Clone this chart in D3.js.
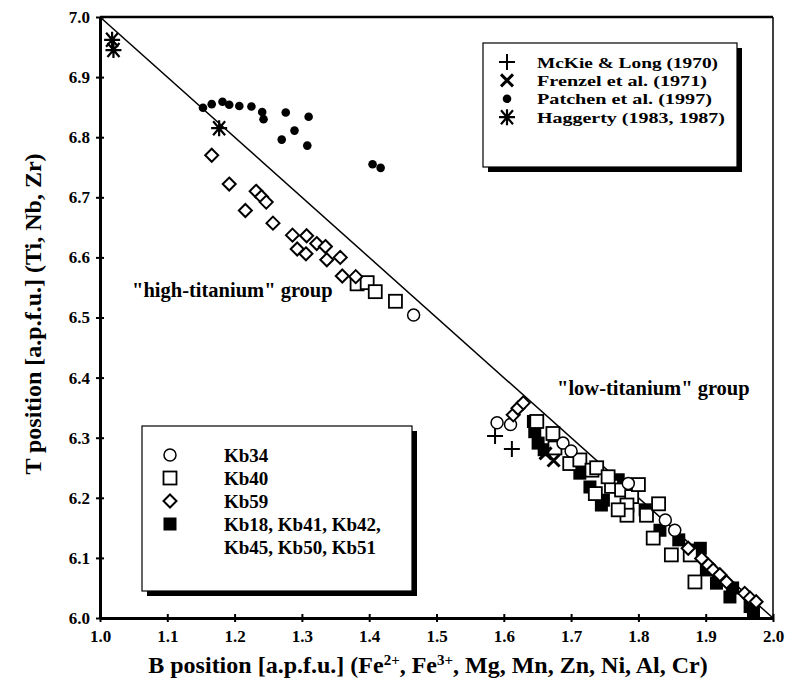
<!DOCTYPE html>
<html>
<head>
<meta charset="utf-8">
<script src="https://cdn.jsdelivr.net/npm/d3@7"></script>
<style>
  body { margin: 0; background: #fff; }
  svg text { font-family: "Liberation Serif", "Times New Roman", serif; font-weight: bold; fill: #000; }
</style>
</head>
<body>
<svg id="chart" width="785" height="683"></svg>
<script>
// axis ticks
const xTicks = [1.0, 1.1, 1.2, 1.3, 1.4, 1.5, 1.6, 1.7, 1.8, 1.9, 2.0]
const yTicks = [6.0, 6.1, 6.2, 6.3, 6.4, 6.5, 6.6, 6.7, 6.8, 6.9, 7.0]

// literature data
const mckie = [[1.587, 6.303], [1.612, 6.281]]
const frenzel = [[1.662, 6.274], [1.674, 6.262]]
const patchen = [
  [1.153, 6.849], [1.166, 6.855], [1.182, 6.859], [1.192, 6.854], [1.207, 6.852],
  [1.225, 6.851], [1.241, 6.842], [1.243, 6.830], [1.276, 6.841], [1.310, 6.834],
  [1.289, 6.811], [1.270, 6.796], [1.308, 6.786], [1.405, 6.755], [1.417, 6.749]
]
const haggerty = [[1.018, 6.962], [1.020, 6.945], [1.177, 6.815]]

// own samples
const kb34 = [
  [1.466, 6.504], [1.590, 6.325], [1.610, 6.322], [1.688, 6.291], [1.700, 6.278],
  [1.785, 6.224], [1.840, 6.163], [1.854, 6.146]
]
const kb40 = [
  [1.382, 6.556], [1.397, 6.558], [1.409, 6.543], [1.439, 6.527],
  [1.649, 6.327], [1.673, 6.307], [1.676, 6.283], [1.698, 6.257], [1.713, 6.263],
  [1.731, 6.246], [1.738, 6.250], [1.736, 6.207], [1.760, 6.219], [1.775, 6.213],
  [1.790, 6.202], [1.783, 6.188], [1.783, 6.171], [1.812, 6.171], [1.822, 6.133],
  [1.849, 6.105], [1.877, 6.105], [1.884, 6.060], [1.800, 6.222], [1.830, 6.190],
  [1.770, 6.180], [1.755, 6.235]
]
const kb59 = [
  [1.166, 6.770], [1.192, 6.722], [1.232, 6.710], [1.240, 6.701], [1.247, 6.692],
  [1.216, 6.678], [1.257, 6.657], [1.286, 6.637], [1.307, 6.636], [1.293, 6.614],
  [1.306, 6.606], [1.322, 6.623], [1.335, 6.618], [1.337, 6.596], [1.357, 6.600],
  [1.360, 6.569], [1.380, 6.568],
  [1.614, 6.338], [1.621, 6.349], [1.629, 6.358],
  [1.874, 6.116], [1.894, 6.099], [1.904, 6.088], [1.911, 6.080], [1.921, 6.072],
  [1.931, 6.060], [1.958, 6.041], [1.966, 6.033], [1.975, 6.027]
]
const kbOther = [
  [1.644, 6.327], [1.646, 6.310], [1.651, 6.291], [1.660, 6.280], [1.713, 6.241],
  [1.728, 6.218], [1.745, 6.188], [1.748, 6.196], [1.770, 6.230], [1.810, 6.180],
  [1.832, 6.146], [1.860, 6.130], [1.887, 6.113], [1.892, 6.116], [1.901, 6.080],
  [1.916, 6.058], [1.940, 6.050], [1.936, 6.035], [1.966, 6.019], [1.971, 6.008]
]

const litNames = ['McKie & Long (1970)', 'Frenzel et al. (1971)', 'Patchen et al. (1997)', 'Haggerty (1983, 1987)']
const ownNames = ['Kb34', 'Kb40', 'Kb59', 'Kb18, Kb41, Kb42,', 'Kb45, Kb50, Kb51']

const svg = d3.select('#chart')
const margin = { left: 100, right: 12, top: 17, bottom: 65 }
const W = 785, H = 683
const SERIF = '"Liberation Serif", "Times New Roman", serif'

const x = d3.scaleLinear().domain([1, 2]).range([margin.left, W - margin.right])
const y = d3.scaleLinear().domain([6, 7]).range([H - margin.bottom, margin.top])

// frame
svg.append('line').attr('x1', x(1)).attr('x2', x(2)).attr('y1', y(7)).attr('y2', y(7))
  .attr('stroke', '#000').attr('stroke-width', 2.5)
svg.append('line').attr('x1', x(2)).attr('x2', x(2)).attr('y1', y(7)).attr('y2', y(6))
  .attr('stroke', '#000').attr('stroke-width', 1.5)

// 1:1 line
svg.append('line').attr('x1', x(1)).attr('y1', y(7)).attr('x2', x(2)).attr('y2', y(6))
  .attr('stroke', '#000').attr('stroke-width', 1.5)

// axes
const xAxis = svg.append('g').attr('transform', `translate(0,${y(6)})`)
  .call(d3.axisBottom(x).tickValues(xTicks).tickFormat(d3.format('.1f')).tickSize(4).tickSizeOuter(0))
const yAxis = svg.append('g').attr('transform', `translate(${x(1)},0)`)
  .call(d3.axisLeft(y).tickValues(yTicks).tickFormat(d3.format('.1f')).tickSize(4).tickSizeOuter(0))

;[xAxis, yAxis].forEach(g => {
  g.attr('font-family', SERIF)
  g.select('.domain').attr('stroke-width', 3)
  g.selectAll('.tick line').attr('stroke-width', 2)
  g.selectAll('.tick text').attr('font-family', SERIF).style('font-size', '17px').style('font-weight', 'bold')
})
// ticks crossing the axis line
xAxis.selectAll('.tick').append('line').attr('y1', 0).attr('y2', -4).attr('stroke', '#000').attr('stroke-width', 2)
yAxis.selectAll('.tick').append('line').attr('x1', 0).attr('x2', 4).attr('stroke', '#000').attr('stroke-width', 2)
xAxis.selectAll('.tick text').attr('dy', '1em').attr('y', 7)
yAxis.selectAll('.tick text').attr('x', -10)

// axis titles
const xt = svg.append('text').attr('x', 428).attr('y', 673).attr('text-anchor', 'middle')
  .style('font-size', '24px')
xt.append('tspan').text('B position [a.p.f.u.] (Fe')
xt.append('tspan').text('2+').attr('dy', -8).style('font-size', '15px')
xt.append('tspan').text(', Fe').attr('dy', 8)
xt.append('tspan').text('3+').attr('dy', -8).style('font-size', '15px')
xt.append('tspan').text(', Mg, Mn, Zn, Ni, Al, Cr)').attr('dy', 8)

svg.append('text').attr('transform', 'translate(41,314) rotate(-90)').attr('text-anchor', 'middle')
  .style('font-size', '24px').text('T position [a.p.f.u.]  (Ti, Nb, Zr)')

// annotations
svg.append('text').attr('x', 132).attr('y', 297).style('font-size', '20.5px').text('"high-titanium" group')
svg.append('text').attr('x', 557).attr('y', 395).style('font-size', '20.5px').text('"low-titanium" group')

// symbol painters
function drawSym(g, type, cx, cy) {
  if (type === 'circle') {
    g.append('circle').attr('cx', cx).attr('cy', cy).attr('r', 6)
      .attr('fill', '#fff').attr('stroke', '#000').attr('stroke-width', 1.5)
  } else if (type === 'square') {
    g.append('rect').attr('x', cx - 6.5).attr('y', cy - 6.5).attr('width', 13).attr('height', 13)
      .attr('fill', '#fff').attr('stroke', '#000').attr('stroke-width', 1.8)
  } else if (type === 'fsquare') {
    g.append('rect').attr('x', cx - 6.5).attr('y', cy - 6.5).attr('width', 13).attr('height', 13)
      .attr('fill', '#000')
  } else if (type === 'diamond') {
    g.append('path').attr('d', `M${cx},${cy - 6.5}L${cx + 6.5},${cy}L${cx},${cy + 6.5}L${cx - 6.5},${cy}Z`)
      .attr('fill', '#fff').attr('stroke', '#000').attr('stroke-width', 2)
  } else if (type === 'dot') {
    g.append('circle').attr('cx', cx).attr('cy', cy).attr('r', 4.3).attr('fill', '#000')
  } else if (type === 'plus') {
    g.append('path').attr('d', `M${cx - 8},${cy}H${cx + 8}M${cx},${cy - 8}V${cy + 8}`)
      .attr('stroke', '#000').attr('stroke-width', 2)
  } else if (type === 'cross') {
    g.append('path').attr('d', `M${cx - 6},${cy - 6}L${cx + 6},${cy + 6}M${cx + 6},${cy - 6}L${cx - 6},${cy + 6}`)
      .attr('stroke', '#000').attr('stroke-width', 3)
  } else if (type === 'star') {
    g.append('path').attr('d', `M${cx - 8},${cy}H${cx + 8}M${cx - 6},${cy - 7}L${cx + 6},${cy + 7}M${cx + 6},${cy - 7}L${cx - 6},${cy + 7}M${cx},${cy - 8}V${cy + 8}`)
      .attr('stroke', '#000').attr('stroke-width', 2.2)
  }
}

const marks = svg.append('g')
const series = [
  [kbOther, 'fsquare'], [kb40, 'square'], [kb34, 'circle'], [kb59, 'diamond'],
  [patchen, 'dot'], [mckie, 'plus'], [frenzel, 'cross'], [haggerty, 'star']
]
series.forEach(([data, type]) => data.forEach(d => drawSym(marks, type, x(d[0]), y(d[1]))))

// legend boxes with drop shadow
function legendBox(x0, y0, w, h) {
  svg.append('rect').attr('x', x0 + 5).attr('y', y0 + 5).attr('width', w).attr('height', h).attr('fill', '#000')
  svg.append('rect').attr('x', x0).attr('y', y0).attr('width', w).attr('height', h)
    .attr('fill', '#fff').attr('stroke', '#000').attr('stroke-width', 1.2)
}

const litSyms = ['plus', 'cross', 'dot', 'star']
const litWidths = [181, 170, 175, 188]
legendBox(483, 43, 254, 124)
const lg1 = svg.append('g')
litNames.forEach((n, i) => {
  const cy = 62 + i * 18.4
  drawSym(lg1, litSyms[i], 507, cy)
  lg1.append('text').attr('x', 537).attr('y', cy + 5.5).style('font-size', '15.5px')
    .attr('textLength', litWidths[i]).attr('lengthAdjust', 'spacingAndGlyphs').text(n)
})

const ownSyms = ['circle', 'square', 'diamond', 'fsquare']
const ownY = [455, 478, 501, 524, 547]
legendBox(142, 426, 270, 165)
const lg2 = svg.append('g')
ownNames.forEach((n, i) => {
  if (i < ownSyms.length) drawSym(lg2, ownSyms[i], 170, ownY[i])
  lg2.append('text').attr('x', 224).attr('y', ownY[i] + 7).style('font-size', '19px').text(n)
})
</script>
</body>
</html>
